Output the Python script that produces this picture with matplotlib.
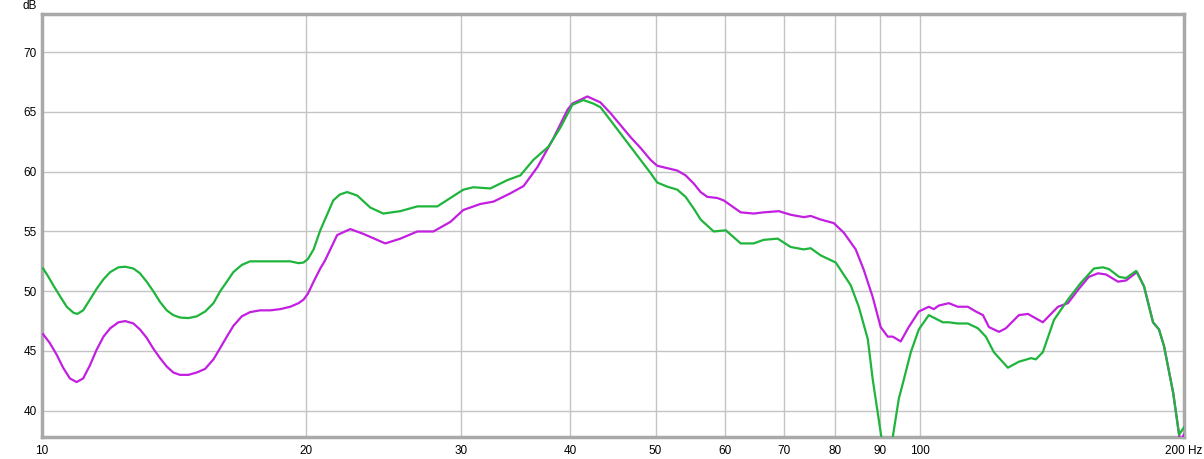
import matplotlib
matplotlib.use("Agg")
import matplotlib.pyplot as plt
from matplotlib.ticker import FixedLocator, FixedFormatter, NullLocator

# ---- data ----
green_f = [10.03, 10.17, 10.30, 10.48, 10.67, 10.86, 10.97, 11.14, 11.34, 11.54,
           11.75, 11.96, 12.22, 12.44, 12.71, 12.93, 13.16, 13.39, 13.63, 13.87,
           14.11, 14.36, 14.68, 15.01, 15.34, 15.68, 15.96, 16.24, 16.52, 16.89,
           17.26, 17.72, 18.20, 18.68, 19.18, 19.60, 19.86, 20.09, 20.39, 20.75,
           21.47, 21.85, 22.27, 22.87, 23.66,
           24.48, 25.60, 26.77, 28.21, 29.19, 30.20, 31.00, 32.42, 33.90, 35.08,
           36.30, 37.76, 38.96, 40.20, 41.38, 42.48, 43.27, 44.43, 45.61, 46.82,
           48.06, 49.34, 50.22, 51.56, 52.93, 54.10, 55.29, 56.28, 58.24, 60.11,
           62.52, 64.68, 66.40, 68.89, 71.28,
           73.75, 75.12, 77.11, 80.22, 83.43, 85.21, 87.25, 88.40, 90.50, 91.71,
           93.16, 94.65, 95.90, 97.68, 99.75, 102.40, 106.23, 107.92, 110.48, 113.43,
           116.47, 118.92, 121.45, 126.00, 129.7, 133.9, 135.6, 138.1, 142.2, 147.5,
           152.6, 157.9, 161.7, 164.3, 168.7, 171.8, 176.4, 180.1, 184.4, 187.3,
           189.8, 194.4, 197.4, 200.0]
green_db = [51.9, 51.2, 50.5, 49.6, 48.7, 48.2, 48.1, 48.4, 49.3, 50.2,
            51.0, 51.6, 52.0, 52.05, 51.9, 51.5, 50.8, 50.0, 49.1, 48.4,
            48.0, 47.8, 47.75, 47.9, 48.3, 49.0, 50.0, 50.8, 51.6, 52.2,
            52.5, 52.5, 52.5, 52.5, 52.5, 52.35, 52.4, 52.7, 53.5, 55.1,
            57.6, 58.1, 58.3, 58.0, 57.0,
            56.5, 56.7, 57.1, 57.1, 57.8, 58.5, 58.7, 58.6, 59.3, 59.7,
            61.0, 62.1, 63.7, 65.6, 66.0, 65.7, 65.4, 64.3, 63.2, 62.1,
            61.0, 59.9, 59.1, 58.75, 58.5, 57.9, 56.9, 56.0, 55.0, 55.1,
            54.0, 54.0, 54.3, 54.4, 53.7,
            53.5, 53.6, 53.0, 52.4, 50.5, 48.7, 46.0, 42.6, 37.6, 35.5,
            37.8, 41.0, 42.6, 44.9, 46.8, 48.0, 47.4, 47.4, 47.3, 47.3,
            46.9, 46.2, 44.9, 43.6, 44.1, 44.4, 44.3, 44.9, 47.6, 49.3,
            50.7, 51.9, 52.0, 51.85, 51.2, 51.1, 51.7, 50.4, 47.4, 46.8,
            45.4, 41.5, 38.0, 38.6]

purple_f = [10.03, 10.21, 10.39, 10.57, 10.76, 10.95, 11.14, 11.34, 11.54, 11.75,
            11.96, 12.22, 12.44, 12.71, 12.93, 13.16, 13.39, 13.63, 13.87, 14.11,
            14.36, 14.68, 15.01, 15.34, 15.68, 15.96, 16.24, 16.52, 16.89, 17.26,
            17.72, 18.20, 18.68, 19.18, 19.60, 19.86, 20.09, 20.39, 20.75, 21.02,
            21.69, 22.45, 23.23, 24.61, 25.60, 26.77, 27.92, 29.19, 30.20, 31.58,
            32.69, 34.18, 35.37, 36.69, 38.25, 39.70, 40.20, 41.81, 43.27, 44.43,
            45.61, 46.82, 48.06, 49.34, 50.22, 51.56, 52.93, 54.10, 55.29, 56.27,
            57.27, 58.80, 59.79, 62.52, 64.68, 66.40, 69.07, 71.28,
            73.75, 75.12, 77.11, 79.80, 81.93, 84.53, 86.33, 88.40, 90.25, 91.94,
            93.16, 95.12, 97.15, 99.75, 102.40, 103.75, 105.12, 107.92, 110.48, 113.43,
            115.87, 118.02, 119.90, 123.10, 125.35, 129.7, 132.8, 138.1, 143.7, 147.5,
            151.4, 155.8, 159.6, 163.0, 168.2, 171.8, 176.8, 180.1, 184.4, 187.3,
            189.8, 194.4, 198.0, 200.0]
purple_db = [46.4, 45.65, 44.7, 43.6, 42.7, 42.4, 42.7, 43.8, 45.1, 46.2,
             46.9, 47.4, 47.5, 47.3, 46.8, 46.1, 45.2, 44.4, 43.7, 43.2,
             43.0, 43.0, 43.2, 43.5, 44.3, 45.25, 46.2, 47.1, 47.9, 48.25,
             48.4, 48.4, 48.5, 48.7, 49.0, 49.3, 49.8, 50.8, 51.9, 52.6,
             54.7, 55.2, 54.8, 54.0, 54.4, 55.0, 55.0, 55.8, 56.8, 57.3,
             57.5, 58.2, 58.8, 60.4, 62.8, 65.2, 65.7, 66.3, 65.8, 64.9,
             63.9, 62.9, 62.0, 61.0, 60.5, 60.3, 60.1, 59.7, 59.0, 58.3,
             57.9, 57.8, 57.6, 56.6, 56.5, 56.6, 56.7, 56.4,
             56.2, 56.3, 56.0, 55.7, 54.9, 53.5, 51.8, 49.5, 47.0, 46.2,
             46.2, 45.8, 47.0, 48.3, 48.7, 48.5, 48.8, 49.0, 48.7, 48.7,
             48.3, 48.0, 47.0, 46.6, 46.9, 48.0, 48.1, 47.4, 48.7, 49.0,
             50.1, 51.2, 51.5, 51.4, 50.8, 50.9, 51.6, 50.4, 47.4, 46.8,
             45.4, 41.5, 37.4, 38.0]

x_ticks = [10, 20, 30, 40, 50, 60, 70, 80, 90, 100, 200]
x_tick_labels = ["10", "20", "30", "40", "50", "60", "70", "80", "90", "100", "200 Hz"]
x_grid = [20, 30, 40, 50, 60, 70, 80, 90, 100]
y_ticks = [40, 45, 50, 55, 60, 65, 70]

# ---- figure ----
plt.rcParams['font.family'] = ['Liberation Sans', 'DejaVu Sans']
fig = plt.figure(figsize=(12.04, 4.59), dpi=100)
ax = fig.add_axes([42/1204, 1 - 437/459, (1184 - 42)/1204, (437 - 14)/459])
ax.set_xscale('log')
ax.set_xlim(10, 200)
ax.set_ylim(37.8, 73.2)

for g in x_grid:
    ax.axvline(g, color='#c4c4c4', lw=1.0, zorder=1)
for yv in y_ticks:
    ax.axhline(yv, color='#c4c4c4', lw=1.0, zorder=1)

ax.plot(purple_f, purple_db, color='#c21fe0', lw=1.6, zorder=3, solid_joinstyle='round')
ax.plot(green_f, green_db, color='#1fb53c', lw=1.6, zorder=4, solid_joinstyle='round')

ax.xaxis.set_major_locator(FixedLocator(x_ticks))
ax.xaxis.set_major_formatter(FixedFormatter(x_tick_labels))
ax.xaxis.set_minor_locator(NullLocator())
ax.set_yticks(y_ticks)
ax.set_yticklabels([str(v) for v in y_ticks])
ax.tick_params(axis='both', length=0, labelsize=8.5, colors='#000000')
ax.tick_params(axis='x', pad=6)
ax.tick_params(axis='y', pad=4)

for s in ax.spines.values():
    s.set_color('#a9a9a9')
    s.set_linewidth(2.5)

fig.text(30/1204, 1 - 6/459, "dB", ha='center', va='center', fontsize=8.5)

fig.savefig("out.png", dpi=100)
